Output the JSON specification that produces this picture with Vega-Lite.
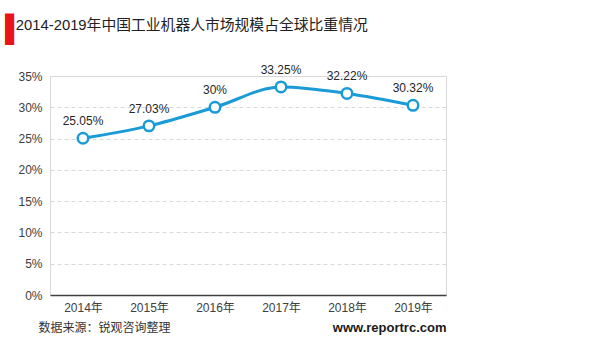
{
  "$schema": "https://vega.github.io/schema/vega-lite/v6.json",
  "width": 396,
  "height": 219,
  "autosize": {"type": "none"},
  "padding": {"left": 50, "top": 76, "right": 154, "bottom": 57},
  "background": "white",
  "config": {
    "font": "Liberation Sans, Noto Sans CJK SC",
    "view": {"stroke": "#d9d9d9", "strokeWidth": 1}
  },
  "title": {
    "text": "▌",
    "color": "#e8141a",
    "fontSize": 26,
    "fontWeight": "normal",
    "anchor": "start",
    "frame": "group",
    "dx": -45,
    "offset": 22,
    "subtitle": "\u28002014-2019年中国工业机器人市场规模占全球比重情况",
    "subtitleColor": "#222222",
    "subtitleFontSize": 14.8,
    "subtitleFont": "Liberation Sans, DejaVu Sans, Noto Sans CJK SC",
    "subtitlePadding": -24
  },
  "data": {
    "values": [
      {"year": "2014年", "v": 0.2505, "label": "25.05%"},
      {"year": "2015年", "v": 0.2703, "label": "27.03%"},
      {"year": "2016年", "v": 0.30, "label": "30%"},
      {"year": "2017年", "v": 0.3325, "label": "33.25%"},
      {"year": "2018年", "v": 0.3222, "label": "32.22%"},
      {"year": "2019年", "v": 0.3032, "label": "30.32%"}
    ]
  },
  "encoding": {
    "x": {
      "field": "year", "type": "ordinal", "sort": null,
      "scale": {"paddingInner": 0, "paddingOuter": 0, "align": 0.5},
      "axis": {
        "title": "数据来源：锐观咨询整理",
        "titleX": -12, "titleY": 32, "titleAnchor": "start", "titleAlign": "left", "titleBaseline": "middle",
        "titleFontWeight": "normal", "titleFontSize": 12, "titleColor": "#333333", "titleFont": "Noto Sans CJK SC",
        "labelAngle": 0, "labelFontSize": 12, "labelColor": "#404040", "labelPadding": 7,
        "ticks": false, "domainColor": "#404040", "domainWidth": 1.5, "grid": false
      }
    },
    "y": {
      "field": "v", "type": "quantitative",
      "scale": {"domain": [0, 0.35], "nice": false},
      "axis": {
        "format": ".0%", "values": [0, 0.05, 0.1, 0.15, 0.2, 0.25, 0.3, 0.35],
        "title": "www.reportrc.com", "titleAngle": 0, "titleX": 396, "titleY": 251,
        "titleAlign": "right", "titleBaseline": "middle", "titleFontSize": 13, "titleFontWeight": "bold", "titleColor": "#1a1a1a",
        "labelFontSize": 12, "labelColor": "#404040", "labelPadding": 8,
        "ticks": false, "domain": false,
        "grid": true, "gridColor": "#d9d9d9", "gridDash": [4, 3]
      }
    }
  },
  "layer": [
    {"mark": {"type": "line", "interpolate": "monotone", "color": "#1a9bd7", "strokeWidth": 3}},
    {"mark": {"type": "point", "filled": true, "fill": "white", "stroke": "#1a9bd7", "strokeWidth": 2.5, "size": 110, "opacity": 1}},
    {"mark": {"type": "text", "dy": -17, "fontSize": 12, "color": "#262626"}, "encoding": {"text": {"field": "label"}}}
  ]
}
